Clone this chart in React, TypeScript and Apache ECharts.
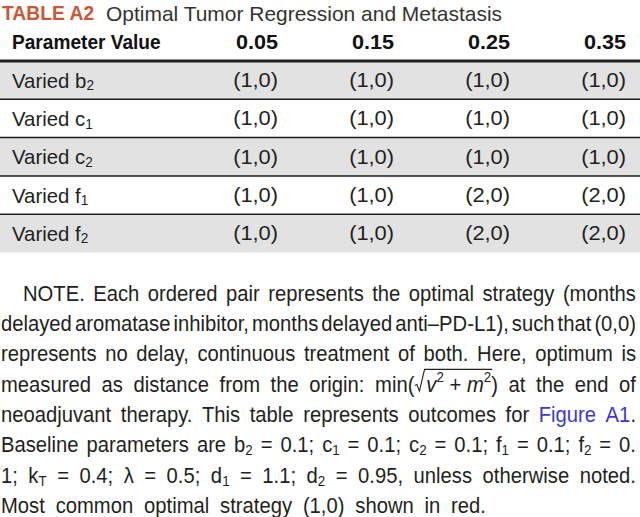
import React, { useEffect, useRef } from 'react';
import * as echarts from 'echarts';

// ---------------- data ----------------
const tableTitle = 'TABLE A2';
const tableCaption = 'Optimal Tumor Regression and Metastasis';
const headerLabel = 'Parameter Value';
const parameterValues = ['0.05', '0.15', '0.25', '0.35'];
const variedParams = ['b', 'c', 'c', 'f', 'f'];
const variedSubscripts = ['2', '1', '2', '1', '2'];
const variedB2 = ['(1,0)', '(1,0)', '(1,0)', '(1,0)'];
const variedC1 = ['(1,0)', '(1,0)', '(1,0)', '(1,0)'];
const variedC2 = ['(1,0)', '(1,0)', '(1,0)', '(1,0)'];
const variedF1 = ['(1,0)', '(1,0)', '(2,0)', '(2,0)'];
const variedF2 = ['(1,0)', '(1,0)', '(2,0)', '(2,0)'];
// markup: _{x} subscript, ^{x} superscript, *x* italic, #x# link, √⟨ ... ⟩ square root
const noteLines = [
  'NOTE. Each ordered pair represents the optimal strategy (months',
  'delayed aromatase inhibitor, months delayed anti–PD-L1), such that (0,0)',
  'represents no delay, continuous treatment of both. Here, optimum is',
  'measured as distance from the origin: min(√⟨*v*^{2}\u00a0+\u00a0*m*^{2}⟩) at the end of',
  'neoadjuvant therapy. This table represents outcomes for #Figure# #A1#.',
  'Baseline parameters are b_{2} = 0.1; c_{1} = 0.1; c_{2} = 0.1; f_{1} = 0.1; f_{2} = 0.',
  '1; k_{T} = 0.4; λ = 0.5; d_{1} = 1.1; d_{2} = 0.95, unless otherwise noted.',
  'Most common optimal strategy (1,0) shown in red.',
];

// ---------------- style ----------------
const FONT = 'Liberation Sans';
const TEXT = '#231f20';
const ROW_FILL = '#e2e2e2';
const RULE = '#1e1e1e';
const LINK = '#3a3ad2';
const TITLE_RED = '#c9573a';
const FS = 21;
const SUB_FS = 14;
const NOTE_FS = 22;
const NOTE_SUB = 14.5;
const RAD_W = 13;

// x axis: column index -> pixel (right edge of each value column)
const X_MIN = -1.3966;
const X_MAX = 4.1207;
const LABEL_COL = -1.293;

let ctx: CanvasRenderingContext2D | null = null;
function textWidth(t: string, size: number, weight = 'normal', style = 'normal') {
  if (!ctx) ctx = document.createElement('canvas').getContext('2d');
  ctx!.font = `${style} ${weight} ${size}px "${FONT}"`;
  return ctx!.measureText(t).width;
}

function txt(
  x: number,
  y: number,
  text: string,
  o: { size: number; weight?: string; style?: string; fill?: string; align?: string; scaleX?: number }
) {
  const align = o.align || 'left';
  return {
    type: 'text',
    x,
    y,
    scaleX: o.scaleX ?? 1,
    silent: true,
    style: {
      text,
      fontSize: o.size,
      fontFamily: FONT,
      fontWeight: o.weight || 'normal',
      fontStyle: o.style || 'normal',
      fill: o.fill || TEXT,
      align,
      textAlign: align,
      verticalAlign: 'middle',
      textVerticalAlign: 'middle',
    },
  };
}

type Seg = { t: string; kind: 'n' | 'it' | 'sub' | 'sup' | 'link' | 'rad'; over: boolean };
function parseWord(w: string): Seg[] {
  const segs: Seg[] = [];
  let over = false;
  const re = /_\{([^}]*)\}|\^\{([^}]*)\}|\*([^*]*)\*|#([^#]*)#|(√⟨)|(⟩)|([^_^*#√⟨⟩]+)/g;
  let m: RegExpExecArray | null;
  while ((m = re.exec(w))) {
    if (m[1] !== undefined) segs.push({ t: m[1], kind: 'sub', over });
    else if (m[2] !== undefined) segs.push({ t: m[2], kind: 'sup', over });
    else if (m[3] !== undefined) segs.push({ t: m[3], kind: 'it', over });
    else if (m[4] !== undefined) segs.push({ t: m[4], kind: 'link', over });
    else if (m[5]) {
      segs.push({ t: '', kind: 'rad', over: false });
      over = true;
    } else if (m[6]) over = false;
    else if (m[7] !== undefined) segs.push({ t: m[7], kind: 'n', over });
  }
  return segs;
}
function segSize(s: Seg) {
  return s.kind === 'sub' || s.kind === 'sup' ? NOTE_SUB : NOTE_FS;
}
function segW(s: Seg) {
  if (s.kind === 'rad') return RAD_W;
  return textWidth(s.t, segSize(s), 'normal', s.kind === 'it' ? 'italic' : 'normal');
}

function buildNote() {
  const elements: any[] = [];
  const parsed = noteLines.map((l) => l.split(' ').map(parseWord));
  const raw = parsed.map((ws) => ws.map((w) => w.reduce((a, s) => a + segW(s), 0)));
  const lefts = noteLines.map((_, i) => (i === 0 ? 23 : 1));
  const rights = noteLines.map((_, i) => (i === noteLines.length - 1 ? 486 : 636));
  const sum1 = raw[1].reduce((a, b) => a + b, 0);
  const baseScale = (rights[1] - lefts[1] - 3 * (raw[1].length - 1)) / sum1;
  parsed.forEach((words, i) => {
    const rawSum = raw[i].reduce((a, b) => a + b, 0);
    let scale = baseScale;
    const avail = rights[i] - lefts[i];
    if (avail - rawSum * scale < 3 * (words.length - 1)) scale = (avail - 3 * (words.length - 1)) / rawSum;
    const sum = rawSum * scale;
    const gap = (avail - sum) / (words.length - 1);
    const ymid = 293 + 30.3 * i;
    const oy = ymid - 0.66 * NOTE_FS;
    let x = lefts[i];
    let overEnd = -1;
    let radX = -1;
    words.forEach((segs) => {
      segs.forEach((s) => {
        const w = segW(s) * scale;
        if (s.kind === 'rad') {
          radX = x;
          x += w;
          return;
        }
        let y = ymid;
        if (s.kind === 'sub') y = ymid + 5.6;
        if (s.kind === 'sup') y = ymid - 7.2;
        elements.push(
          txt(x, y, s.t, {
            size: segSize(s),
            style: s.kind === 'it' ? 'italic' : 'normal',
            fill: s.kind === 'link' ? LINK : TEXT,
            scaleX: scale,
          })
        );
        if (s.over) overEnd = x + w;
        x += w;
      });
      x += gap;
    });
    if (radX >= 0) {
      const base = ymid + 0.31 * NOTE_FS;
      const rw = RAD_W * scale;
      elements.push({
        type: 'polyline',
        silent: true,
        shape: {
          points: [
            [radX + 0.5, ymid + 1.5],
            [radX + 2.5, ymid + 0.5],
            [radX + rw * 0.42, base + 0.5],
            [radX + rw * 0.85, oy],
            [overEnd + 1, oy],
          ],
        },
        style: { stroke: TEXT, lineWidth: 1.1, fill: 'none' },
      });
    }
  });
  return elements;
}

function buildTitle() {
  const wA = textWidth(tableTitle, FS, 'bold');
  const wB = textWidth(tableCaption, FS);
  return [
    txt(2, 13, tableTitle, { size: FS, weight: 'bold', fill: TITLE_RED, scaleX: 93 / wA }),
    txt(106, 13, tableCaption, { size: FS, fill: '#333333', scaleX: 397 / wB }),
  ];
}

const cellRows = [variedB2, variedC1, variedC2, variedF1, variedF2];
const cellData = cellRows.flatMap((vals, r) => vals.map((v, c) => [c + 1, r, v]));
const headerData = [headerLabel, ...parameterValues].map((v, i) => [i === 0 ? LABEL_COL : i, 0, v]);
const rowData = variedParams.map((p, r) => [LABEL_COL, r, p]);

function buildOption() {
  const nRows = variedParams.length;
  return {
    animation: false,
    backgroundColor: '#ffffff',
    grid: { left: 0, right: 0, top: 61, height: 38.3 * nRows },
    xAxis: { type: 'value', min: X_MIN, max: X_MAX, show: false },
    yAxis: { type: 'category', data: variedParams.map((p, i) => p + variedSubscripts[i]), inverse: true, show: false },
    graphic: { elements: [...buildTitle(), ...buildNote()] },
    series: [
      {
        type: 'custom',
        name: 'rows',
        clip: false,
        data: rowData,
        renderItem: (params: any, api: any) => {
          const r = api.value(1) as number;
          const [lx, cy] = api.coord([LABEL_COL, r]);
          const h = api.size([0, 1])[1];
          const cs = params.coordSys;
          const children: any[] = [];
          if (r % 2 === 0)
            children.push({
              type: 'rect',
              shape: { x: cs.x, y: cy - h / 2, width: cs.width, height: h },
              style: { fill: ROW_FILL },
            });
          children.push({
            type: 'line',
            shape: { x1: cs.x, y1: cy - h / 2, x2: cs.x + cs.width, y2: cy - h / 2 },
            style: { stroke: RULE, lineWidth: r === 0 ? 3 : 1.5 },
          });
          const base = 'Varied ';
          const sc = 0.97;
          const w1 = textWidth(base + variedParams[r], FS) * sc;
          children.push(txt(lx, cy, base + variedParams[r], { size: FS, scaleX: sc }));
          children.push(txt(lx + w1, cy + 5.5, variedSubscripts[r], { size: SUB_FS, scaleX: sc }));
          return { type: 'group', children };
        },
      },
      {
        type: 'custom',
        name: 'header',
        clip: false,
        data: headerData,
        renderItem: (params: any, api: any) => {
          const c = api.value(0) as number;
          const [x, cy] = api.coord([c, 0]);
          const h = api.size([0, 1])[1];
          const label = headerData[params.dataIndex][2] as string;
          const first = params.dataIndex === 0;
          return txt(x, cy - h / 2 - 19, label, {
            size: FS,
            weight: 'bold',
            align: first ? 'left' : 'right',
            fill: '#111111',
            scaleX: first ? 0.91 : 1.03,
          });
        },
      },
      {
        type: 'custom',
        name: 'cells',
        clip: false,
        data: cellData,
        renderItem: (params: any, api: any) => {
          const [x, y] = api.coord([api.value(0), api.value(1)]);
          const label = cellData[params.dataIndex][2] as string;
          return txt(x, y, label, { size: FS, align: 'right', scaleX: 1.04 });
        },
      },
    ],
  };
}

export default function App() {
  const ref = useRef<HTMLDivElement>(null);
  useEffect(() => {
    const chart = echarts.init(ref.current!, null, { renderer: 'svg' });
    chart.setOption(buildOption() as any);
    return () => chart.dispose();
  }, []);
  return (
    <div
      ref={ref}
      style={{ position: 'absolute', left: 0, top: 0, width: 640, height: 517, background: '#ffffff' }}
    />
  );
}
